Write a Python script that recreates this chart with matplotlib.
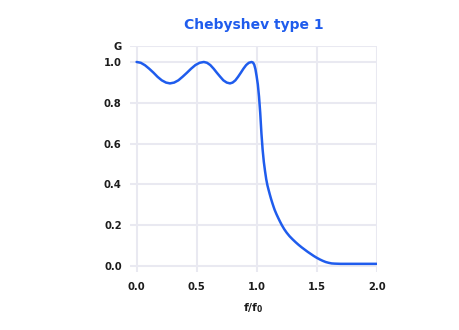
import matplotlib
matplotlib.use("Agg")
import matplotlib.pyplot as plt

# gain curve, f/f0 vs G
freq = [0.000, 0.035, 0.070, 0.105, 0.140, 0.175, 0.210, 0.245, 0.278,
        0.313, 0.348, 0.384, 0.419, 0.454, 0.490, 0.525, 0.560,
        0.587, 0.614, 0.642, 0.669, 0.696, 0.723, 0.751, 0.778,
        0.800, 0.823, 0.845, 0.868, 0.890, 0.913, 0.935, 0.958,
        0.970, 0.980, 0.990, 1.000, 1.010, 1.020, 1.030, 1.040, 1.050,
        1.060, 1.070, 1.080, 1.090, 1.100, 1.110, 1.120, 1.130, 1.140,
        1.150, 1.165, 1.180, 1.195, 1.210, 1.230, 1.250, 1.275, 1.300,
        1.325, 1.350, 1.375, 1.400, 1.425, 1.450, 1.475, 1.500, 1.525,
        1.550, 1.575, 1.600, 1.625, 1.650, 1.700, 1.800, 1.900, 2.000]
gain = [1.000, 0.996, 0.984, 0.967, 0.948, 0.927, 0.910, 0.899, 0.895,
        0.899, 0.910, 0.928, 0.947, 0.967, 0.985, 0.996, 1.000,
        0.996, 0.985, 0.967, 0.947, 0.928, 0.910, 0.899, 0.895,
        0.899, 0.910, 0.927, 0.947, 0.967, 0.985, 0.996, 1.000,
        0.997, 0.987, 0.965, 0.930, 0.890, 0.830, 0.750, 0.650, 0.570,
        0.510, 0.465, 0.425, 0.395, 0.372, 0.350, 0.329, 0.310, 0.292,
        0.275, 0.254, 0.235, 0.217, 0.200, 0.180, 0.163, 0.145, 0.130,
        0.116, 0.103, 0.091, 0.080, 0.069, 0.059, 0.049, 0.040, 0.032,
        0.025, 0.019, 0.015, 0.012, 0.011, 0.010, 0.010, 0.010, 0.010]

x_ticks = [0.0, 0.5, 1.0, 1.5, 2.0]
x_labels = ["0.0", "0.5", "1.0", "1.5", "2.0"]
y_ticks = [0.0, 0.2, 0.4, 0.6, 0.8, 1.0, 1.08]
y_labels = ["0.0", "0.2", "0.4", "0.6", "0.8", "1.0", "G"]

BLUE = "#1f5ced"
GRID = "#e9e9f1"
TEXT = "#1c1c1c"

fig = plt.figure(figsize=(4.6, 3.3), dpi=100)
ax = fig.add_axes([0.2826, 0.1758, 0.5362, 0.6858])

ax.plot(freq, gain, color=BLUE, lw=1.8, solid_capstyle="round",
        solid_joinstyle="round", zorder=3)

ax.set_xlim(-0.055, 2.0)
ax.set_ylim(-0.03, 1.08)
ax.set_xticks(x_ticks)
ax.set_xticklabels(x_labels)
ax.set_yticks(y_ticks)
ax.set_yticklabels(y_labels)
ax.tick_params(length=0, labelsize=7.2, labelcolor=TEXT)
ax.tick_params(axis="x", pad=7)
ax.tick_params(axis="y", pad=6)
for lbl in ax.get_xticklabels() + ax.get_yticklabels():
    lbl.set_fontweight("bold")

ax.grid(True, color=GRID, lw=1.5, zorder=0)
ax.set_axisbelow(True)
for s in ax.spines.values():
    s.set_visible(False)

ax.set_xlabel(r"$\mathbf{f/f_0}$", fontsize=7.8, color=TEXT, labelpad=7)
ax.set_title("Chebyshev type 1", color=BLUE, fontsize=10, fontweight="bold", pad=12)

fig.savefig("out.png", dpi=100)
